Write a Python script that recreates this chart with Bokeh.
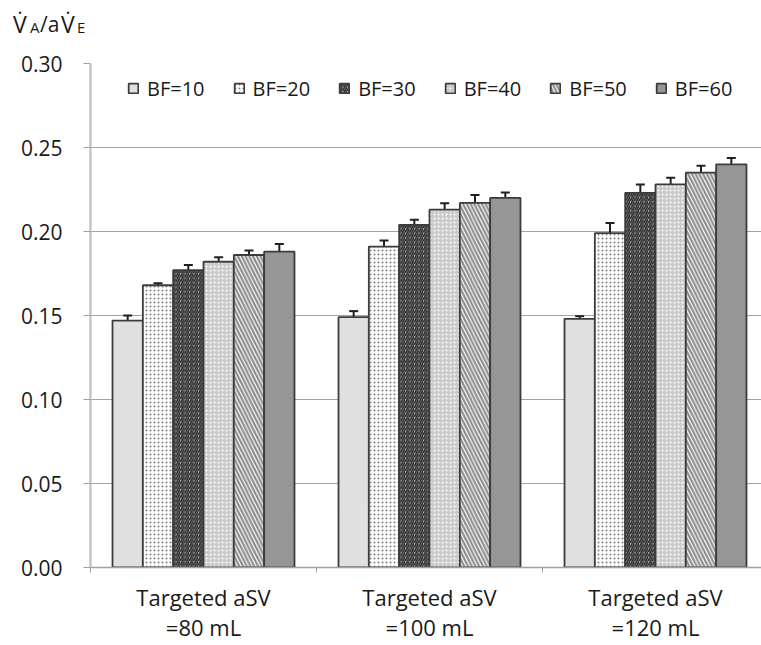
from bokeh.plotting import figure
from bokeh.layouts import column
from bokeh.models import (Range1d, FixedTicker, PrintfTickFormatter, ColumnDataSource,
                          Whisker, TeeHead, Legend, LegendItem, Div)
from bokeh.embed import file_html
from bokeh.resources import INLINE

# ---------------- data ----------------
groups = ["Targeted aSV\n=80 mL", "Targeted aSV\n=100 mL", "Targeted aSV\n=120 mL"]
series = ["BF=10", "BF=20", "BF=30", "BF=40", "BF=50", "BF=60"]
bf10 = [0.147, 0.149, 0.148]
bf20 = [0.168, 0.191, 0.199]
bf30 = [0.177, 0.204, 0.223]
bf40 = [0.182, 0.213, 0.228]
bf50 = [0.186, 0.217, 0.235]
bf60 = [0.188, 0.220, 0.240]
err10 = [0.0030, 0.0036, 0.0016]
err20 = [0.0012, 0.0036, 0.0060]
err30 = [0.0030, 0.0030, 0.0050]
err40 = [0.0026, 0.0038, 0.0040]
err50 = [0.0027, 0.0048, 0.0042]
err60 = [0.0045, 0.0032, 0.0037]
y_ticks = [0.00, 0.05, 0.10, 0.15, 0.20, 0.25, 0.30]
y_title_parts = ["V\u0307", "A", "/a", "V\u0307", "E"]

values = [bf10, bf20, bf30, bf40, bf50, bf60]
errors = [err10, err20, err30, err40, err50, err60]

# ---------------- styles ----------------
FONT = "Open Sans"
TXT = "#1a1a1a"
styles = [
    dict(fill_color="#e0e0e0"),
    dict(fill_color="#ffffff", hatch_pattern="dot", hatch_color="#7a7a7a", hatch_scale=4, hatch_weight=1.3),
    dict(fill_color="#b4b4b4", hatch_pattern="right_diagonal_line", hatch_color="#2a2a2a", hatch_scale=4.5, hatch_weight=1.6),
    dict(fill_color="#cacaca", hatch_pattern="dot", hatch_color="#ffffff", hatch_scale=4, hatch_weight=1.8),
    dict(fill_color="#ffffff", hatch_pattern="left_diagonal_line", hatch_color="#8c8c8c", hatch_scale=7.5, hatch_weight=2.2),
    dict(fill_color="#969696"),
]

W = 761
HEAD_H = 48
MAIN_H = 597
LEFT, TOP, BOTTOM = 90, 15, 78
frame_w = W - LEFT
cat_px = 226.0

# ---------------- header with the y-axis title ----------------
title_x = [13, 30, 40, 61, 77]
title_sizes = [23, 15, 21, 23, 15]
BASE = 33
spans = []
for t, tx, fs in zip(y_title_parts, title_x, title_sizes):
    top = BASE - 0.888 * fs
    spans.append(f'<span style="position:absolute;left:{tx}px;top:{top:.1f}px;'
                 f'font-size:{fs}px;line-height:{fs}px;white-space:nowrap">{t}</span>')
html = (f'<div style="position:relative;width:{W}px;height:{HEAD_H}px;'
        f'font-family:\'{FONT}\';color:{TXT}">' + "".join(spans) + '</div>')
head = Div(text=html, width=W, height=HEAD_H, margin=0)

# ---------------- main chart ----------------
p = figure(width=W, height=MAIN_H, output_backend="svg", toolbar_location=None,
           x_range=Range1d(0, frame_w / cat_px), y_range=Range1d(0, 0.30),
           min_border_left=LEFT, min_border_right=0, min_border_top=TOP,
           min_border_bottom=BOTTOM)
p.outline_line_color = None
p.background_fill_color = "white"

bw = 0.1342
renderers = []
for i, (vals, errs) in enumerate(zip(values, errors)):
    xs = [g + 0.5 + (i - 2.5) * bw for g in range(len(groups))]
    src = ColumnDataSource(dict(x=xs, top=vals, upper=[v + e for v, e in zip(vals, errs)]))
    r = p.vbar(x="x", top="top", width=bw, bottom=0, source=src,
               line_color="#3c3c3c", line_width=1.8, **styles[i])
    renderers.append(r)
    wh = Whisker(base="x", upper="upper", lower="top", source=src, dimension="height",
                 line_color="#202020", line_width=2, lower_head=None,
                 upper_head=TeeHead(size=9, line_width=2, line_color="#202020"))
    p.add_layout(wh)

# y axis
p.yaxis.ticker = FixedTicker(ticks=y_ticks)
p.yaxis.formatter = PrintfTickFormatter(format="%.2f")
p.yaxis.major_tick_out = 7
p.yaxis.major_tick_in = 0
p.yaxis.minor_tick_line_color = None
p.yaxis.major_tick_line_color = "#a0a0a0"
p.yaxis.axis_line_color = "#c4c4c4"
p.yaxis.axis_line_width = 2.5
p.yaxis.major_label_standoff = 21
p.yaxis.major_label_text_font = FONT
p.yaxis.major_label_text_font_size = "21px"
p.yaxis.major_label_text_color = TXT

# x axis
p.xaxis.ticker = FixedTicker(ticks=[g + 0.5 for g in range(len(groups))],
                             minor_ticks=[float(g) for g in range(len(groups) + 1)])
p.xaxis.major_label_overrides = {g + 0.5: lab for g, lab in enumerate(groups)}
p.xaxis.major_tick_line_color = None
p.xaxis.major_tick_out = 0
p.xaxis.major_tick_in = 0
p.xaxis.minor_tick_out = 5
p.xaxis.minor_tick_in = 0
p.xaxis.minor_tick_line_color = "#a0a0a0"
p.xaxis.axis_line_color = "#a0a0a0"
p.xaxis.axis_line_width = 1.5
p.xaxis.major_label_standoff = 9
p.xaxis.major_label_text_font = FONT
p.xaxis.major_label_text_font_size = "22px"
p.xaxis.major_label_text_color = TXT
p.xaxis.major_label_text_line_height = 1.0

p.xgrid.grid_line_color = None
p.ygrid.ticker = FixedTicker(ticks=y_ticks)
p.ygrid.grid_line_color = "#a3a3a3"
p.ygrid.grid_line_width = 1

legend = Legend(items=[LegendItem(label=s, renderers=[r]) for s, r in zip(series, renderers)],
                orientation="horizontal", location=(37, 465.5),
                glyph_width=12, glyph_height=12, label_standoff=8, spacing=28,
                padding=0, margin=0, border_line_color=None, background_fill_alpha=0,
                label_text_font=FONT, label_text_font_size="20px", label_text_color=TXT)
p.add_layout(legend)

layout = column(head, p, spacing=0)
open("out.html", "w").write(file_html(layout, INLINE))
